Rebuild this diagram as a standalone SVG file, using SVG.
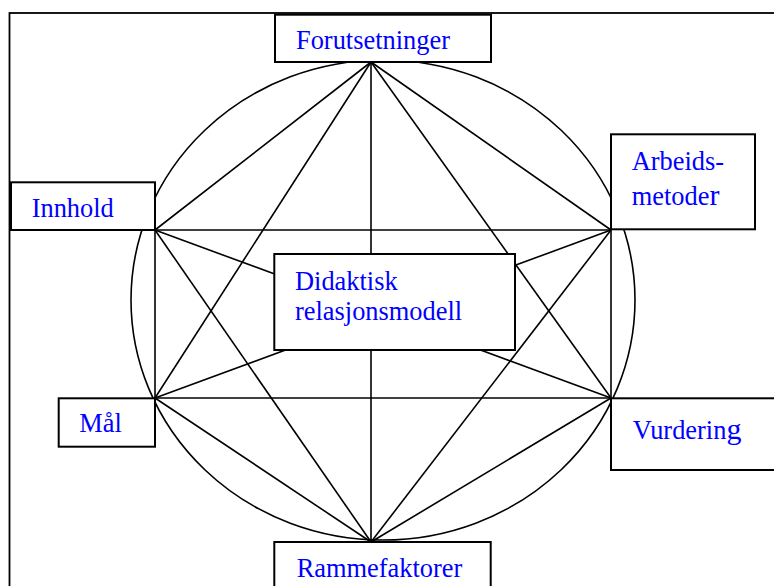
<svg xmlns="http://www.w3.org/2000/svg" width="774" height="586" viewBox="0 0 774 586">
<style>
.box{fill:#fff;stroke:#000;stroke-width:2}
.ln{stroke:#000;stroke-width:1.6;fill:none}
.t{font-family:"Liberation Serif","Times New Roman",serif;font-size:26.4px;fill:#0000ff}
</style>
<rect x="0" y="0" width="774" height="586" fill="#fff"/>
<rect id="frame" x="9.5" y="13" width="780" height="600" fill="none" stroke="#000" stroke-width="1.8"/>
<g id="connectors" class="ln">
<ellipse cx="383" cy="300" rx="252" ry="240"/>
<line x1="371" y1="62" x2="155" y2="230"/>
<line x1="371" y1="62" x2="611" y2="230"/>
<line x1="371" y1="62" x2="155" y2="398"/>
<line x1="371" y1="62" x2="611" y2="398"/>
<line x1="371" y1="62" x2="371" y2="542"/>
<line x1="155" y1="230" x2="611" y2="230"/>
<line x1="155" y1="230" x2="155" y2="398"/>
<line x1="155" y1="230" x2="611" y2="398"/>
<line x1="155" y1="230" x2="371" y2="542"/>
<line x1="611" y1="230" x2="155" y2="398"/>
<line x1="611" y1="230" x2="611" y2="398"/>
<line x1="611" y1="230" x2="371" y2="542"/>
<line x1="155" y1="398" x2="611" y2="398"/>
<line x1="155" y1="398" x2="371" y2="542"/>
<line x1="611" y1="398" x2="371" y2="542"/>
</g>
<g id="forutsetninger">
<rect class="box" x="275" y="14.7" width="216" height="47.3"/>
<text class="t" x="296" y="49">Forutsetninger</text>
</g>
<g id="innhold">
<rect class="box" x="11" y="182.3" width="144" height="47.7"/>
<text class="t" x="31.7" y="216.7">Innhold</text>
</g>
<g id="arbeidsmetoder">
<rect class="box" x="611" y="134.3" width="144" height="95"/>
<text class="t" x="631.7" y="170">Arbeids-</text>
<text class="t" x="631.7" y="205">metode<tspan style="font-size:30px">r</tspan></text>
</g>
<g id="didaktisk">
<rect class="box" x="274.3" y="254" width="240.7" height="96"/>
<text class="t" x="295" y="290">Didaktisk</text>
<text class="t" x="295" y="320">relasjonsmodell</text>
</g>
<g id="maal">
<rect class="box" x="58.7" y="398.3" width="96.3" height="48.4"/>
<text class="t" x="79.3" y="432.3">Mål</text>
</g>
<g id="vurdering">
<rect class="box" x="611" y="398.3" width="200" height="71.7"/>
<text class="t" x="632.7" y="439">Vurderin<tspan style="font-size:30px">g</tspan></text>
</g>
<g id="rammefaktorer">
<rect class="box" x="274.3" y="542" width="216.4" height="80"/>
<text class="t" x="296.7" y="576.7">Rammefaktorer</text>
</g>
</svg>
